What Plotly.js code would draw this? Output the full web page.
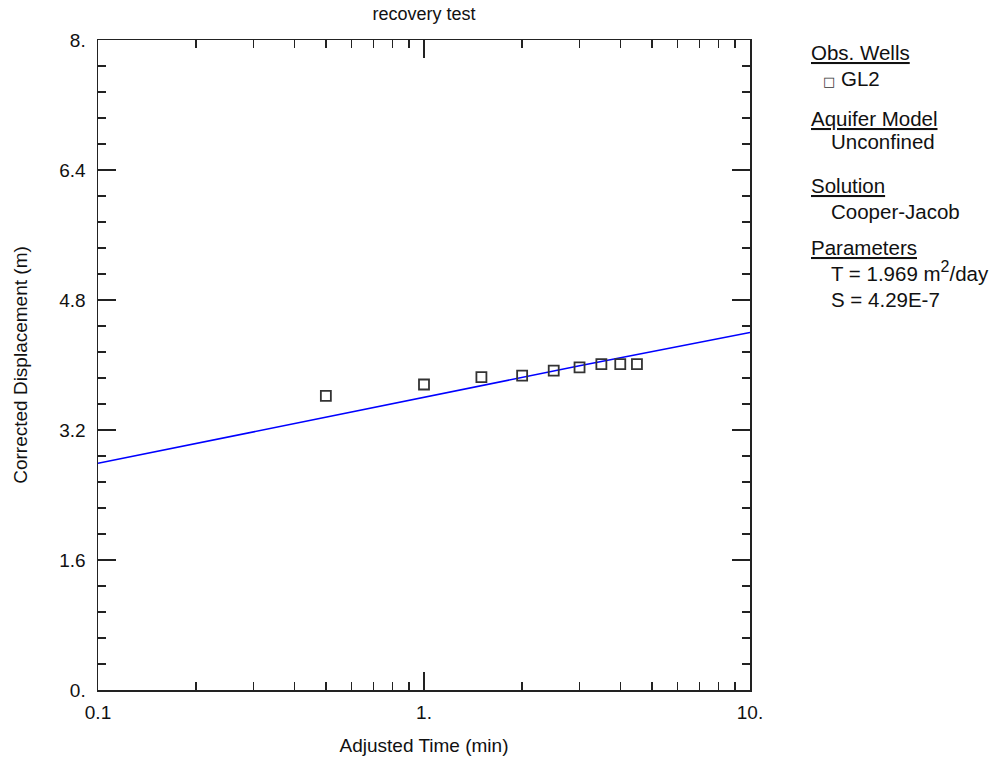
<!DOCTYPE html>
<html>
<head>
<meta charset="utf-8">
<script src="https://cdn.plot.ly/plotly-3.0.1.min.js"></script>
<style>html,body{margin:0;padding:0;background:#fff;}#chart{width:996px;height:764px;}</style>
</head>
<body>
<div id="chart"></div>
<script>
// Observed data (well GL2)
const obsTime = [0.5, 1.0, 1.5, 2.0, 2.5, 3.0, 3.5, 4.0, 4.5];
const obsDisp = [3.62, 3.76, 3.85, 3.87, 3.93, 3.97, 4.01, 4.01, 4.01];
// Cooper-Jacob fitted solution line
const fitTime = [0.1, 0.3, 1.0, 3.0, 10.0];
const fitDisp = [2.79, 3.18, 3.60, 3.99, 4.40];
// Tick labels
const xTickVals = [0.1, 1, 10];
const xTickText = ["0.1", "1.", "10."];
const yTickVals = [0, 1.6, 3.2, 4.8, 6.4, 8];
const yTickText = ["0.", "1.6", "3.2", "4.8", "6.4", "8."];
// Legend text
const legendHeadings = ["Obs. Wells", "Aquifer Model", "Solution", "Parameters"];
const legendItems = ["GL2", "Unconfined", "Cooper-Jacob", "T = 1.969 m<sup><span style=\"font-size:16px\">2</span></sup>/day", "S = 4.29E-7"];

const FONT = "Liberation Sans, Arial, sans-serif";
const fs = 19;
const lfs = 20.5;

const traces = [
  {x: fitTime, y: fitDisp, mode: 'lines', type: 'scatter',
   line: {color: '#0000ff', width: 1.6}, showlegend: false, hoverinfo: 'skip'},
  {x: obsTime, y: obsDisp, mode: 'markers', type: 'scatter',
   marker: {symbol: 'square-open', size: 10, color: '#333333', line: {width: 1.8, color: '#333333'}},
   showlegend: false}
];

const minorX = {ticks: 'inside', ticklen: 8, tickcolor: '#222', tickwidth: 1.3, dtick: 'D1'};
const minorY = {ticks: 'inside', ticklen: 8, tickcolor: '#222', tickwidth: 1.3, tick0: 0, dtick: 0.32};

const axisCommon = {
  showgrid: false, zeroline: false, showline: true, linecolor: '#222', linewidth: 1.5,
  ticks: 'inside', tickcolor: '#222', tickwidth: 1.3, ticklen: 18,
  tickfont: {family: FONT, size: fs, color: '#111'}
};

const layout = {
  width: 996, height: 764,
  margin: {l: 98, r: 246, t: 40, b: 74},
  paper_bgcolor: '#fff', plot_bgcolor: '#fff',
  font: {family: FONT, size: fs, color: '#111'},
  title: {text: 'recovery test', font: {family: FONT, size: 18, color: '#111'}, x: 0.5, xref: 'paper', y: 0.982, yanchor: 'middle'},
  xaxis: Object.assign({}, axisCommon, {
    type: 'log', range: [-1, 1], tickmode: 'array', tickvals: xTickVals, ticktext: xTickText,
    minor: minorX, ticklabelstandoff: 5,
    title: {text: 'Adjusted Time (min)', font: {family: FONT, size: fs, color: '#111'}, standoff: 16}
  }),
  yaxis: Object.assign({}, axisCommon, {
    range: [0, 8], tickmode: 'array', tickvals: yTickVals, ticktext: yTickText,
    minor: minorY, ticklabelstandoff: 7,
    title: {text: 'Corrected Displacement (m)', font: {family: FONT, size: fs, color: '#111'}, standoff: 26}
  }),
  xaxis2: Object.assign({}, axisCommon, {
    type: 'log', range: [-1, 1], overlaying: 'x', side: 'top', tickmode: 'array', tickvals: xTickVals,
    showticklabels: false, anchor: 'y', minor: minorX
  }),
  yaxis2: Object.assign({}, axisCommon, {
    range: [0, 8], overlaying: 'y', side: 'right', tickmode: 'array', tickvals: yTickVals,
    showticklabels: false, anchor: 'x', minor: minorY
  }),
  annotations: []
};

// invisible trace to activate the mirror axes
traces.push({x: [1], y: [1], xaxis: 'x2', yaxis: 'y2', mode: 'markers', marker: {opacity: 0}, showlegend: false, hoverinfo: 'skip'});

const hx = 1.0905, ix = 1.121;
const headY = [0.9815, 0.8785, 0.7769, 0.6800];
const itemY = [0.9415, 0.8446, 0.7369, 0.6446, 0.6010];
legendHeadings.forEach((t, i) => {
  layout.annotations.push({text: '<span style="text-decoration:underline">' + t + '</span>', xref: 'paper', yref: 'paper', x: hx, y: headY[i],
    xanchor: 'left', yanchor: 'middle', showarrow: false, font: {family: FONT, size: lfs, color: '#111'}});
});
legendItems.forEach((t, i) => {
  const txt = i === 0 ? '<span style="font-family:DejaVu Sans;font-size:13px;color:#333">□</span> ' + t : t;
  layout.annotations.push({text: txt, xref: 'paper', yref: 'paper', x: i === 0 ? 1.109 : ix, y: itemY[i],
    xanchor: 'left', yanchor: 'middle', showarrow: false, font: {family: FONT, size: lfs, color: '#111'}});
});

Plotly.newPlot('chart', traces, layout, {staticPlot: true});
</script>
</body>
</html>
